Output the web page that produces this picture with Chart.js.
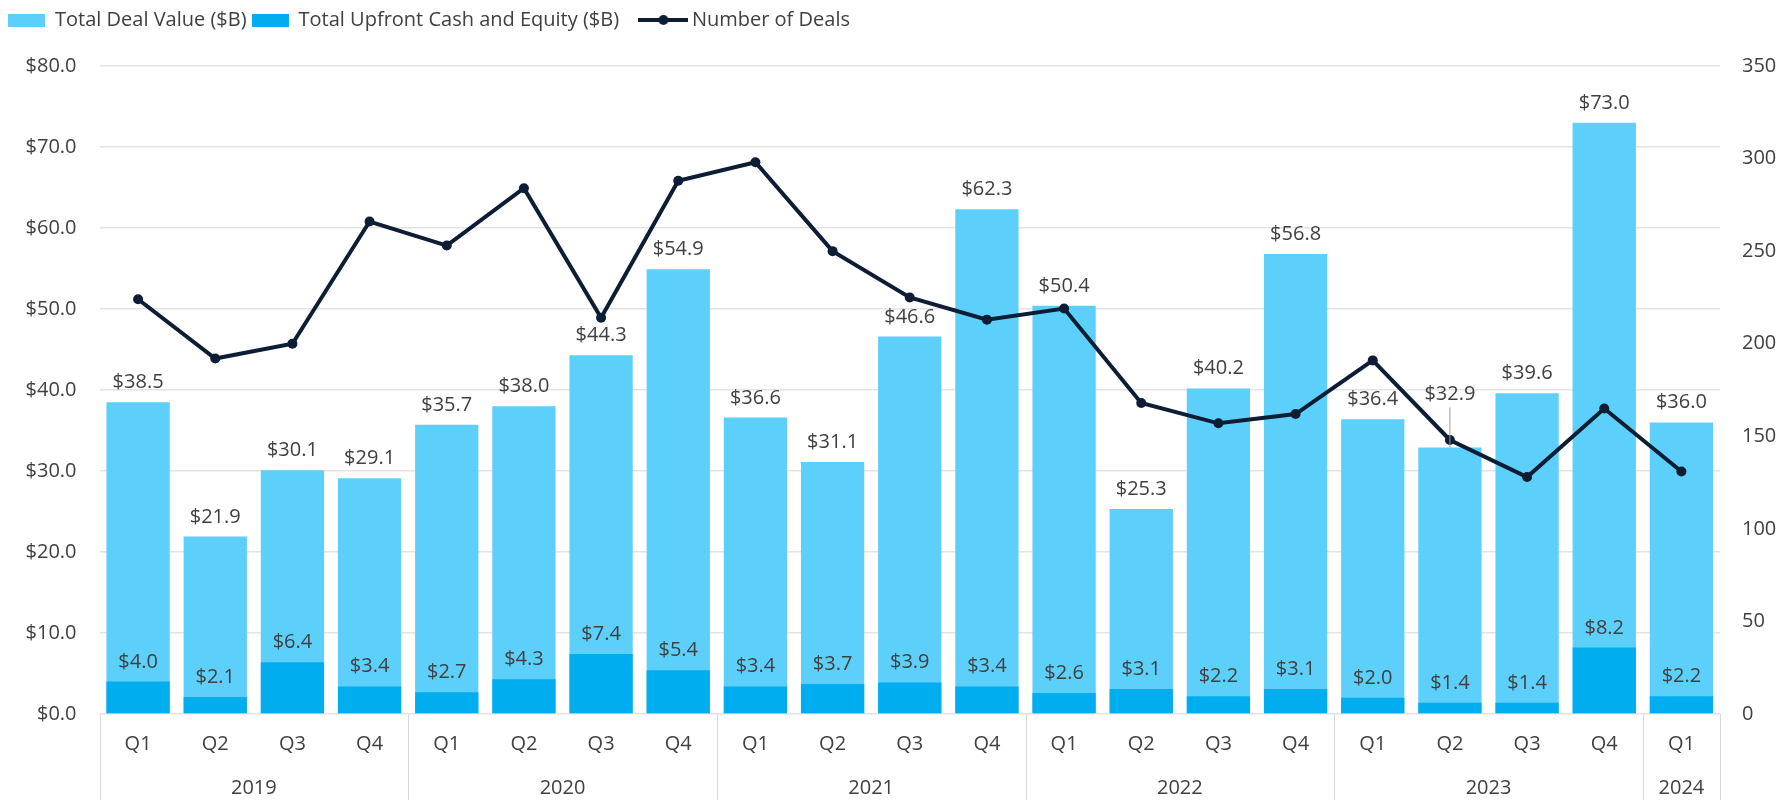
<!DOCTYPE html>
<html>
<head>
<meta charset="utf-8">
<title>Deal Value and Number of Deals</title>
<script src="https://cdn.jsdelivr.net/npm/chart.js@4"></script>
<style>
  html, body { margin: 0; padding: 0; background: #fff; }
  #wrap { width: 1783px; height: 800px; }
</style>
</head>
<body>
<div id="wrap"><canvas id="myChart" width="1783" height="800"></canvas></div>
<script>
// Chart data
const quarters = ['Q1', 'Q2', 'Q3', 'Q4', 'Q1', 'Q2', 'Q3', 'Q4', 'Q1', 'Q2', 'Q3', 'Q4',
    'Q1', 'Q2', 'Q3', 'Q4', 'Q1', 'Q2', 'Q3', 'Q4', 'Q1'];
const years = ['2019', '2020', '2021', '2022', '2023', '2024'];
const quartersPerYear = [4, 4, 4, 4, 4, 1];
const totalDealValue = [38.5, 21.9, 30.1, 29.1, 35.7, 38.0, 44.3, 54.9, 36.6, 31.1, 46.6, 62.3,
    50.4, 25.3, 40.2, 56.8, 36.4, 32.9, 39.6, 73.0, 36.0];
const upfrontValue = [4.0, 2.1, 6.4, 3.4, 2.7, 4.3, 7.4, 5.4, 3.4, 3.7, 3.9, 3.4,
    2.6, 3.1, 2.2, 3.1, 2.0, 1.4, 1.4, 8.2, 2.2];
const dealCount = [224, 192, 200, 266, 253, 284, 214, 288, 298, 250, 225, 213,
    219, 168, 157, 162, 191, 148, 128, 165, 131];
const leftTicks = [0, 10, 20, 30, 40, 50, 60, 70, 80];
const rightTicks = [0, 50, 100, 150, 200, 250, 300, 350];

const FONT = "'Open Sans', 'Noto Sans', sans-serif";
const LIGHT = '#5DCFFB';
const DARK = '#00AEEF';
const NAVY = '#0D1D33';
const TEXT = '#404040';

// legend swatches
function swatch(color) {
    const c = document.createElement('canvas');
    c.width = 37; c.height = 13;
    const g = c.getContext('2d');
    g.fillStyle = color;
    g.fillRect(0, 0, 37, 13);
    return c;
}
function lineSwatch() {
    const c = document.createElement('canvas');
    c.width = 50; c.height = 14;
    const g = c.getContext('2d');
    g.strokeStyle = NAVY;
    g.lineWidth = 4;
    g.beginPath(); g.moveTo(0, 7); g.lineTo(50, 7); g.stroke();
    g.fillStyle = NAVY;
    g.beginPath(); g.arc(25, 7, 5, 0, Math.PI * 2); g.fill();
    return c;
}
const legendIcons = [swatch(LIGHT), swatch(DARK), lineSwatch()];
// extra room after the 2nd legend entry so the wider line marker doesn't crowd it
const legendTrail = ['', '    ', ''];

// value labels above bars (label for Q2 2023 is lifted with a leader line)
const liftedLabel = { 17: 34 };
const valueLabels = {
    id: 'valueLabels',
    afterDatasetsDraw(chart) {
        const ctx = chart.ctx;
        ctx.save();
        ctx.font = '20px ' + FONT;
        ctx.fillStyle = TEXT;
        ctx.textAlign = 'center';
        ctx.textBaseline = 'alphabetic';
        [0, 1].forEach(di => {
            const meta = chart.getDatasetMeta(di);
            const values = chart.data.datasets[di].data;
            meta.data.forEach((bar, i) => {
                const lift = di === 0 ? (liftedLabel[i] || 0) : 0;
                const y = bar.y - 14 - lift;
                ctx.fillText('$' + values[i].toFixed(1), bar.x, y);
                if (lift) {
                    ctx.strokeStyle = '#9a9a9a';
                    ctx.lineWidth = 1;
                    ctx.beginPath();
                    ctx.moveTo(bar.x, y + 8);
                    ctx.lineTo(bar.x, bar.y);
                    ctx.stroke();
                }
            });
        });
        ctx.restore();
    }
};

// year row under the quarter labels
const yearAxis = {
    id: 'yearAxis',
    afterDraw(chart) {
        const ctx = chart.ctx;
        const x = chart.scales.x;
        const top = chart.chartArea.bottom;
        ctx.save();
        ctx.strokeStyle = '#D9D9D9';
        ctx.lineWidth = 1;
        ctx.font = '20px ' + FONT;
        ctx.fillStyle = TEXT;
        ctx.textAlign = 'center';
        ctx.textBaseline = 'middle';
        let start = 0;
        const edge = v => Math.round(x.getPixelForValue(v)) + 0.5;
        ctx.beginPath();
        ctx.moveTo(edge(-0.5), top); ctx.lineTo(edge(-0.5), chart.height);
        ctx.stroke();
        years.forEach((yr, k) => {
            const end = start + quartersPerYear[k] - 1;
            const xe = edge(end + 0.5);
            ctx.beginPath();
            ctx.moveTo(xe, top); ctx.lineTo(xe, chart.height);
            ctx.stroke();
            ctx.fillText(yr, x.getPixelForValue((start + end) / 2), 788);
            start = end + 1;
        });
        ctx.restore();
    }
};

const legendSpace = {
    id: 'legendSpace',
    beforeInit(chart) {
        const fit = chart.legend.fit;
        chart.legend.fit = function () {
            fit.bind(chart.legend)();
            this.height = 61;
        };
    }
};

new Chart(document.getElementById('myChart').getContext('2d'), {
    type: 'bar',
    data: {
        labels: quarters,
        datasets: [
            {
                label: 'Total Deal Value ($B)',
                data: totalDealValue,
                backgroundColor: LIGHT,
                yAxisID: 'y',
                grouped: false,
                order: 2,
                categoryPercentage: 1,
                barPercentage: 0.82
            },
            {
                label: 'Total Upfront Cash and Equity ($B)',
                data: upfrontValue,
                backgroundColor: DARK,
                yAxisID: 'y',
                grouped: false,
                order: 1,
                categoryPercentage: 1,
                barPercentage: 0.82
            },
            {
                type: 'line',
                label: 'Number of Deals',
                data: dealCount,
                borderColor: NAVY,
                backgroundColor: NAVY,
                borderWidth: 4,
                pointRadius: 5,
                pointBackgroundColor: NAVY,
                pointBorderWidth: 0,
                tension: 0,
                yAxisID: 'y1',
                order: 0
            }
        ]
    },
    options: {
        responsive: false,
        devicePixelRatio: 1,
        animation: false,
        layout: { padding: { top: 5, left: 3, right: 0, bottom: 26 } },
        plugins: {
            tooltip: { enabled: false },
            legend: {
                position: 'top',
                align: 'start',
                labels: {
                    font: { size: 20, family: FONT },
                    color: TEXT,
                    padding: 5,
                    usePointStyle: true,
                    pointStyleWidth: 37,
                    boxHeight: 13,
                    generateLabels: (chart) => chart.data.datasets.map((ds, i) => ({
                        text: ds.label + legendTrail[i],
                        pointStyle: legendIcons[i],
                        fillStyle: ds.backgroundColor,
                        strokeStyle: 'transparent',
                        lineWidth: 0,
                        fontColor: TEXT,
                        datasetIndex: i,
                        hidden: false
                    }))
                }
            }
        },
        scales: {
            x: {
                grid: { display: false, drawTicks: false },
                border: { display: false },
                ticks: {
                    font: { size: 20, family: FONT },
                    color: TEXT,
                    padding: 18,
                    maxRotation: 0,
                    autoSkip: false
                }
            },
            y: {
                position: 'left',
                min: 0,
                max: 80,
                afterBuildTicks: (scale) => { scale.ticks = leftTicks.map(v => ({ value: v })); },
                afterFit: (scale) => { scale.width = 96.5; },
                grid: { color: '#E3E3E3', lineWidth: 1.5, drawTicks: false },
                border: { display: false },
                ticks: {
                    font: { size: 20, family: FONT },
                    color: TEXT,
                    padding: 23,
                    callback: v => '$' + Number(v).toFixed(1)
                }
            },
            y1: {
                position: 'right',
                min: 0,
                max: 350,
                afterBuildTicks: (scale) => { scale.ticks = rightTicks.map(v => ({ value: v })); },
                afterFit: (scale) => { scale.width = 63; },
                grid: { drawOnChartArea: false, drawTicks: false },
                border: { display: false },
                ticks: {
                    font: { size: 20, family: FONT },
                    color: TEXT,
                    padding: 22
                }
            }
        }
    },
    plugins: [legendSpace, valueLabels, yearAxis]
});
</script>
</body>
</html>
